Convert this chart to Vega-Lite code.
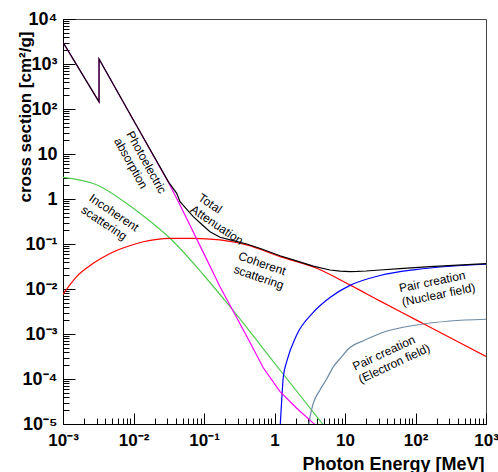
{
  "$schema": "https://vega.github.io/schema/vega-lite/v6.json",
  "width": 423,
  "height": 405,
  "autosize": {"type": "none"},
  "padding": {"left": 63, "top": 19, "right": 12, "bottom": 48},
  "background": "white",
  "config": {
    "view": {"stroke": "#444444", "strokeWidth": 1},
    "font": "Liberation Sans"
  },
  "datasets": {
    "curves": [
      {"p": "Incoherent", "E": 0.001, "s": 3.02},
      {"p": "Incoherent", "E": 0.003162, "s": 1.995},
      {"p": "Incoherent", "E": 0.008017, "s": 0.7943},
      {"p": "Incoherent", "E": 0.01585, "s": 0.3548},
      {"p": "Incoherent", "E": 0.03296, "s": 0.134},
      {"p": "Incoherent", "E": 0.1, "s": 0.01995},
      {"p": "Incoherent", "E": 0.2339, "s": 0.004045},
      {"p": "Incoherent", "E": 1.197, "s": 0.0001585},
      {"p": "Incoherent", "E": 4.92, "s": 0.00000955},
      {"p": "Coherent", "E": 0.001, "s": 0.00759},
      {"p": "Coherent", "E": 0.001549, "s": 0.01862},
      {"p": "Coherent", "E": 0.002692, "s": 0.03715},
      {"p": "Coherent", "E": 0.004645, "s": 0.06166},
      {"p": "Coherent", "E": 0.008017, "s": 0.0871},
      {"p": "Coherent", "E": 0.01377, "s": 0.1122},
      {"p": "Coherent", "E": 0.03296, "s": 0.1334},
      {"p": "Coherent", "E": 0.07047, "s": 0.134},
      {"p": "Coherent", "E": 0.1687, "s": 0.123},
      {"p": "Coherent", "E": 0.4036, "s": 0.0955},
      {"p": "Coherent", "E": 1.197, "s": 0.05248},
      {"p": "Coherent", "E": 3.963, "s": 0.02884},
      {"p": "Coherent", "E": 12.45, "s": 0.01175},
      {"p": "Coherent", "E": 31.62, "s": 0.00537},
      {"p": "Coherent", "E": 100, "s": 0.002089},
      {"p": "Coherent", "E": 316.2, "s": 0.000813},
      {"p": "Coherent", "E": 1000, "s": 0.000316},
      {"p": "PairNuclear", "E": 1.189, "s": 0.0000063},
      {"p": "PairNuclear", "E": 1.265, "s": 0.0000339},
      {"p": "PairNuclear", "E": 1.334, "s": 0.0001122},
      {"p": "PairNuclear", "E": 1.489, "s": 0.0002421},
      {"p": "PairNuclear", "E": 2.065, "s": 0.000951},
      {"p": "PairNuclear", "E": 3.548, "s": 0.00302},
      {"p": "PairNuclear", "E": 6.124, "s": 0.006457},
      {"p": "PairNuclear", "E": 11.75, "s": 0.01202},
      {"p": "PairNuclear", "E": 31.33, "s": 0.01995},
      {"p": "PairNuclear", "E": 100, "s": 0.02692},
      {"p": "PairNuclear", "E": 316.2, "s": 0.03199},
      {"p": "PairNuclear", "E": 1000, "s": 0.03548},
      {"p": "PairElectron", "E": 2.951, "s": 0.00000631},
      {"p": "PairElectron", "E": 3.192, "s": 0.00001445},
      {"p": "PairElectron", "E": 3.548, "s": 0.00002884},
      {"p": "PairElectron", "E": 4.416, "s": 0.000057},
      {"p": "PairElectron", "E": 5.495, "s": 0.0001},
      {"p": "PairElectron", "E": 6.823, "s": 0.0001862},
      {"p": "PairElectron", "E": 8.492, "s": 0.0002818},
      {"p": "PairElectron", "E": 11.75, "s": 0.000501},
      {"p": "PairElectron", "E": 18.2, "s": 0.000708},
      {"p": "PairElectron", "E": 34.99, "s": 0.001096},
      {"p": "PairElectron", "E": 104, "s": 0.001585},
      {"p": "PairElectron", "E": 308.3, "s": 0.001945},
      {"p": "PairElectron", "E": 1000, "s": 0.002128}
    ],
    "sharp": [
      {"p": "Photoelectric", "E": 0.001, "s": 3020},
      {"p": "Photoelectric", "E": 0.003243, "s": 144.5},
      {"p": "Photoelectric", "E": 0.003245, "s": 1288},
      {"p": "Photoelectric", "E": 0.01, "s": 56.2},
      {"p": "Photoelectric", "E": 0.03162, "s": 2.265},
      {"p": "Photoelectric", "E": 0.04571, "s": 0.7362},
      {"p": "Photoelectric", "E": 0.1, "s": 0.0603},
      {"p": "Photoelectric", "E": 0.1687, "s": 0.01122},
      {"p": "Photoelectric", "E": 0.4036, "s": 0.000891},
      {"p": "Photoelectric", "E": 0.6934, "s": 0.0001778},
      {"p": "Photoelectric", "E": 1.197, "s": 0.0000525},
      {"p": "Photoelectric", "E": 2.065, "s": 0.00002239},
      {"p": "Photoelectric", "E": 3.548, "s": 0.00001047},
      {"p": "Photoelectric", "E": 3.981, "s": 0.00000891},
      {"p": "Total", "E": 0.001, "s": 3020},
      {"p": "Total", "E": 0.003243, "s": 144.5},
      {"p": "Total", "E": 0.003245, "s": 1288},
      {"p": "Total", "E": 0.01, "s": 56.2},
      {"p": "Total", "E": 0.03162, "s": 2.344},
      {"p": "Total", "E": 0.04102, "s": 1.34},
      {"p": "Total", "E": 0.04571, "s": 0.871},
      {"p": "Total", "E": 0.05623, "s": 0.6026},
      {"p": "Total", "E": 0.07047, "s": 0.4046},
      {"p": "Total", "E": 0.08913, "s": 0.2884},
      {"p": "Total", "E": 0.1216, "s": 0.1875},
      {"p": "Total", "E": 0.1687, "s": 0.1413},
      {"p": "Total", "E": 0.2512, "s": 0.1202},
      {"p": "Total", "E": 0.4036, "s": 0.1},
      {"p": "Total", "E": 0.631, "s": 0.07943},
      {"p": "Total", "E": 1.197, "s": 0.05495},
      {"p": "Total", "E": 1.995, "s": 0.04266},
      {"p": "Total", "E": 3.548, "s": 0.03235},
      {"p": "Total", "E": 6.124, "s": 0.02642},
      {"p": "Total", "E": 8.5, "s": 0.0250},
      {"p": "Total", "E": 11.75, "s": 0.02443},
      {"p": "Total", "E": 15.0, "s": 0.0246},
      {"p": "Total", "E": 19.95, "s": 0.02512},
      {"p": "Total", "E": 31.33, "s": 0.02642},
      {"p": "Total", "E": 60.0, "s": 0.0285},
      {"p": "Total", "E": 160.7, "s": 0.03133},
      {"p": "Total", "E": 400.0, "s": 0.0340},
      {"p": "Total", "E": 1000, "s": 0.0365}
    ],
    "labels": [
      {"g": "a", "t": "Photoelectric\nabsorption", "E": 0.0088, "s": 30.9},
      {"g": "b", "t": "Incoherent\nscattering", "E": 0.00245, "s": 1.12},
      {"g": "b", "t": "Total\nAttenuation", "E": 0.0866, "s": 1.14},
      {"g": "c", "t": "Coherent\nscattering", "E": 0.311, "s": 0.0555},
      {"g": "d", "t": "Pair creation\n(Nuclear field)", "E": 58.7, "s": 0.0103},
      {"g": "e", "t": "Pair creation\n(Electron field)", "E": 13.1, "s": 0.000183}
    ]
  },
  "layer": [
    {
      "data": {"name": "curves"},
      "mark": {"type": "line", "interpolate": "monotone", "strokeWidth": 1.2, "clip": true},
      "encoding": {
        "x": {
          "field": "E", "type": "quantitative",
          "scale": {"type": "log", "domain": [0.001, 1000], "nice": false},
          "axis": {
            "orient": "bottom",
            "values": [0.001, 0.01, 0.1, 1, 10, 100, 1000],
            "labelExpr": "datum.value == 0.001 ? '10⁻³' : datum.value == 0.01 ? '10⁻²' : datum.value == 0.1 ? '10⁻¹' : datum.value == 1 ? '1' : datum.value == 10 ? '10' : datum.value == 100 ? '10²' : '10³'",
            "grid": false,
            "tickSize": -11, "tickColor": "black", "tickWidth": 1,
            "domainColor": "black", "domainWidth": 1,
            "labelPadding": 19, "labelFont": "Liberation Sans", "labelFontWeight": "bold", "labelFontSize": 17, "labelColor": "black",
            "labelOverlap": false, "labelBaseline": "top", "labelAlign": "center",
            "title": "Photon Energy [MeV]",
            "titleFont": "Liberation Sans", "titleFontWeight": "bold", "titleFontSize": 18, "titleColor": "black",
            "titleX": 421, "titleY": 45, "titleAlign": "right", "titleBaseline": "alphabetic"
          }
        },
        "y": {
          "field": "s", "type": "quantitative",
          "scale": {"type": "log", "domain": [0.00001, 10000], "nice": false},
          "axis": {
            "orient": "left",
            "values": [0.00001, 0.0001, 0.001, 0.01, 0.1, 1, 10, 100, 1000, 10000],
            "labelExpr": "datum.value == 0.00001 ? '10⁻⁵' : datum.value == 0.0001 ? '10⁻⁴' : datum.value == 0.001 ? '10⁻³' : datum.value == 0.01 ? '10⁻²' : datum.value == 0.1 ? '10⁻¹' : datum.value == 1 ? '1' : datum.value == 10 ? '10' : datum.value == 100 ? '10²' : datum.value == 1000 ? '10³' : '10⁴'",
            "grid": false,
            "tickSize": -12, "tickColor": "black", "tickWidth": 1,
            "domainColor": "black", "domainWidth": 1,
            "labelPadding": 18, "labelFont": "Liberation Sans", "labelFontWeight": "bold", "labelFontSize": 18, "labelColor": "black",
            "labelOverlap": false, "labelAlign": "right", "labelBaseline": "middle",
            "title": "cross section [cm²/g]",
            "titleFont": "Liberation Sans", "titleFontWeight": "bold", "titleFontSize": 17, "titleColor": "black",
            "titleAngle": 270, "titleX": -38, "titleY": 12, "titleAlign": "right", "titleBaseline": "middle"
          }
        },
        "color": {
          "field": "p", "type": "nominal", "legend": null,
          "scale": {
            "domain": ["Total", "Photoelectric", "Incoherent", "Coherent", "PairNuclear", "PairElectron"],
            "range": ["#000000", "#ff00ff", "#4fcc4f", "#ff0000", "#0000ff", "#6b8aa6"]
          }
        }
      }
    },
    {
      "data": {"name": "sharp"},
      "mark": {"type": "line", "interpolate": "linear", "strokeWidth": 1.2, "clip": true},
      "encoding": {
        "x": {
          "field": "E", "type": "quantitative",
          "scale": {"type": "log", "domain": [0.001, 1000], "nice": false},
          "axis": {
            "orient": "bottom",
            "values": [0.002, 0.003, 0.004, 0.005, 0.006, 0.007, 0.008, 0.009, 0.02, 0.03, 0.04, 0.05, 0.06, 0.07, 0.08, 0.09, 0.2, 0.3, 0.4, 0.5, 0.6, 0.7, 0.8, 0.9, 2, 3, 4, 5, 6, 7, 8, 9, 20, 30, 40, 50, 60, 70, 80, 90, 200, 300, 400, 500, 600, 700, 800, 900],
            "labels": false, "domain": false, "grid": false,
            "tickSize": -6, "tickColor": "black", "tickWidth": 1,
            "title": null
          }
        },
        "y": {
          "field": "s", "type": "quantitative",
          "scale": {"type": "log", "domain": [0.00001, 10000], "nice": false},
          "axis": {
            "orient": "left",
            "values": [0.00002, 0.00003, 0.00004, 0.00005, 0.00006, 0.00007, 0.00008, 0.00009, 0.0002, 0.0003, 0.0004, 0.0005, 0.0006, 0.0007, 0.0008, 0.0009, 0.002, 0.003, 0.004, 0.005, 0.006, 0.007, 0.008, 0.009, 0.02, 0.03, 0.04, 0.05, 0.06, 0.07, 0.08, 0.09, 0.2, 0.3, 0.4, 0.5, 0.6, 0.7, 0.8, 0.9, 2, 3, 4, 5, 6, 7, 8, 9, 20, 30, 40, 50, 60, 70, 80, 90, 200, 300, 400, 500, 600, 700, 800, 900, 2000, 3000, 4000, 5000, 6000, 7000, 8000, 9000],
            "labels": false, "domain": false, "grid": false,
            "tickSize": -6, "tickColor": "black", "tickWidth": 1,
            "title": null
          }
        },
        "color": {
          "field": "p", "type": "nominal", "legend": null,
          "scale": {
            "domain": ["Total", "Photoelectric", "Incoherent", "Coherent", "PairNuclear", "PairElectron"],
            "range": ["#000000", "#ff00ff", "#4fcc4f", "#ff0000", "#0000ff", "#6b8aa6"]
          }
        },
        "order": {"field": "E", "type": "quantitative"}
      }
    },
    {
      "data": {"name": "labels"},
      "transform": [{"filter": "datum.g == 'a'"}],
      "mark": {"type": "text", "angle": 61, "align": "left", "baseline": "middle", "lineBreak": "\n", "lineHeight": 14, "fontSize": 12, "font": "Liberation Sans", "color": "black"},
      "encoding": {
        "x": {"field": "E", "type": "quantitative", "scale": {"type": "log", "domain": [0.001, 1000], "nice": false}, "axis": null},
        "y": {"field": "s", "type": "quantitative", "scale": {"type": "log", "domain": [0.00001, 10000], "nice": false}, "axis": null},
        "text": {"field": "t"}
      }
    },
    {
      "data": {"name": "labels"},
      "transform": [{"filter": "datum.g == 'b'"}],
      "mark": {"type": "text", "angle": 34, "align": "left", "baseline": "middle", "lineBreak": "\n", "lineHeight": 14, "fontSize": 12, "font": "Liberation Sans", "color": "black"},
      "encoding": {
        "x": {"field": "E", "type": "quantitative", "scale": {"type": "log", "domain": [0.001, 1000], "nice": false}, "axis": null},
        "y": {"field": "s", "type": "quantitative", "scale": {"type": "log", "domain": [0.00001, 10000], "nice": false}, "axis": null},
        "text": {"field": "t"}
      }
    },
    {
      "data": {"name": "labels"},
      "transform": [{"filter": "datum.g == 'c'"}],
      "mark": {"type": "text", "angle": 19, "align": "left", "baseline": "middle", "lineBreak": "\n", "lineHeight": 14, "fontSize": 12, "font": "Liberation Sans", "color": "black"},
      "encoding": {
        "x": {"field": "E", "type": "quantitative", "scale": {"type": "log", "domain": [0.001, 1000], "nice": false}, "axis": null},
        "y": {"field": "s", "type": "quantitative", "scale": {"type": "log", "domain": [0.00001, 10000], "nice": false}, "axis": null},
        "text": {"field": "t"}
      }
    },
    {
      "data": {"name": "labels"},
      "transform": [{"filter": "datum.g == 'd'"}],
      "mark": {"type": "text", "angle": 348.5, "align": "left", "baseline": "middle", "lineBreak": "\n", "lineHeight": 14, "fontSize": 12, "font": "Liberation Sans", "color": "black"},
      "encoding": {
        "x": {"field": "E", "type": "quantitative", "scale": {"type": "log", "domain": [0.001, 1000], "nice": false}, "axis": null},
        "y": {"field": "s", "type": "quantitative", "scale": {"type": "log", "domain": [0.00001, 10000], "nice": false}, "axis": null},
        "text": {"field": "t"}
      }
    },
    {
      "data": {"name": "labels"},
      "transform": [{"filter": "datum.g == 'e'"}],
      "mark": {"type": "text", "angle": 335, "align": "left", "baseline": "middle", "lineBreak": "\n", "lineHeight": 14, "fontSize": 12, "font": "Liberation Sans", "color": "black"},
      "encoding": {
        "x": {"field": "E", "type": "quantitative", "scale": {"type": "log", "domain": [0.001, 1000], "nice": false}, "axis": null},
        "y": {"field": "s", "type": "quantitative", "scale": {"type": "log", "domain": [0.00001, 10000], "nice": false}, "axis": null},
        "text": {"field": "t"}
      }
    }
  ],
  "resolve": {"axis": {"x": "independent", "y": "independent"}}
}
